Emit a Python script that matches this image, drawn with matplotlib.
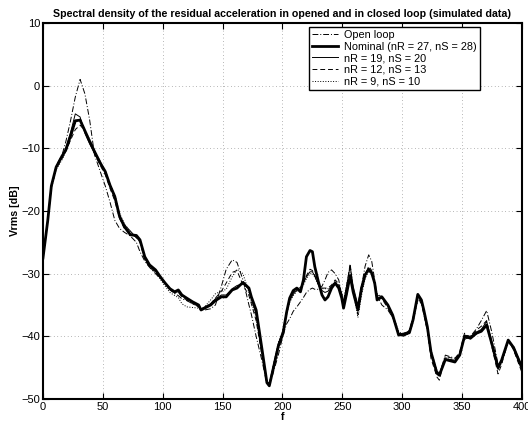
import matplotlib
matplotlib.use('Agg')
import matplotlib.pyplot as plt

# 0. data
# ====================
freq = [0, 2, 4, 7, 11, 16, 19, 23, 27, 31, 35, 39, 43, 48, 52, 56, 60, 64, 68, 73,
        78, 81, 85, 89, 94, 98, 102, 106, 110, 113, 116, 120, 125, 130, 132, 135, 140, 144, 149, 153,
        158, 162, 167, 172, 174, 178, 183, 187, 189, 192, 196.5, 200.5, 203.5, 206, 209, 212, 215, 217.5, 220, 223,
        225, 227, 230, 233, 235.5, 238, 241, 244, 247, 249.5, 251, 253.5, 256.5, 259, 263, 266, 269, 272, 274.5, 277,
        279, 283, 288, 292, 297, 301, 306, 309, 313, 316, 318, 321, 324, 329, 331, 336, 344, 348, 352, 357,
        362, 366, 370.5, 375, 380, 383, 388.5, 393, 400]

open_loop = [-27.5, -24.5, -21.5, -16.0, -12.8, -11.0, -9.0, -5.6, -1.8, 1.0,
             -1.3, -5.5, -11.0, -13.8, -16.0, -18.6, -21.5, -22.8, -23.4, -24.0,
             -25.0, -26.5, -28.0, -29.0, -30.0, -30.8, -31.6, -32.6, -33.2, -33.5,
             -34.0, -34.3, -34.8, -35.3, -35.5, -35.8, -35.6, -35.0, -32.0, -29.3,
             -27.8, -28.2, -31.0, -35.0, -36.5, -40.0, -44.0, -47.6, -47.8, -46.0,
             -43.0, -39.8, -38.0, -37.2, -36.0, -35.3, -34.5, -33.8, -33.0, -32.5,
             -32.3, -32.5, -32.5, -32.0, -31.0, -29.8, -29.4, -30.0, -31.0, -33.5,
             -34.5, -33.5, -30.5, -33.0, -35.0, -32.0, -28.8, -27.0, -28.0, -31.0,
             -33.5, -35.0, -35.8, -37.0, -39.5, -40.0, -39.5, -37.5, -34.0, -34.5,
             -36.0, -39.0, -42.5, -45.5, -46.0, -43.0, -43.5, -42.7, -40.5, -40.0,
             -38.8, -37.5, -35.9, -39.5, -44.5, -44.0, -40.8, -42.0, -45.5]

nominal = [-27.5, -24.5, -21.5, -16.0, -13.0, -11.2, -10.3, -8.0, -5.6, -5.5,
           -7.2, -8.9, -10.5, -12.4, -13.7, -15.9, -17.7, -20.9, -22.5, -23.8,
           -23.9, -24.6, -27.3, -28.6, -29.4, -30.5, -31.5, -32.4, -32.9, -32.6,
           -33.4, -33.9, -34.5, -35.0, -35.8, -35.5, -35.0, -34.3, -33.7, -33.7,
           -32.6, -32.3, -31.4, -32.3, -33.7, -35.8, -42.2, -47.4, -47.9, -45.4,
           -41.6, -39.5, -36.1, -33.9, -32.7, -32.3, -32.9, -31.0, -27.3, -26.3,
           -26.5, -28.9, -31.3, -33.4, -34.2, -33.7, -32.3, -31.5, -32.3, -33.9,
           -35.5, -33.2, -30.3, -32.9, -35.8, -32.3, -30.2, -29.3, -29.9, -31.5,
           -34.2, -33.7, -35.0, -36.6, -39.8, -39.7, -39.4, -37.4, -33.3, -34.2,
           -35.8, -38.5, -42.5, -45.9, -46.2, -43.7, -44.1, -43.0, -40.0, -40.3,
           -39.5, -39.2, -38.2, -41.3, -45.0, -43.8, -40.6, -41.8, -45.0]

nr19 = [-27.5, -24.5, -21.5, -16.0, -13.0, -11.2, -10.0, -7.5, -4.5, -5.0,
        -7.6, -9.3, -10.8, -12.6, -13.9, -16.0, -18.0, -20.7, -22.2, -23.2,
        -24.3, -24.8, -27.6, -28.8, -29.6, -30.6, -31.6, -32.5, -33.0, -32.9,
        -33.5, -34.0, -34.6, -35.2, -35.6, -35.3, -34.8, -34.0, -33.4, -33.4,
        -32.4, -31.9, -31.6, -32.5, -34.0, -36.5, -42.8, -47.3, -47.6, -45.0,
        -41.2, -39.0, -36.0, -34.3, -33.3, -32.6, -32.6, -31.5, -30.5, -29.7,
        -29.7, -30.4, -31.8, -32.7, -33.0, -32.8, -31.9, -31.5, -32.0, -33.5,
        -34.5, -32.0, -28.8, -32.0, -35.0, -32.0, -30.0, -29.2, -29.8, -31.8,
        -33.5, -33.6, -35.2, -36.8, -39.6, -39.5, -39.2, -37.2, -33.6, -34.4,
        -36.2, -38.8, -42.8, -45.7, -46.3, -43.6, -43.8, -42.8, -39.8, -40.0,
        -39.3, -38.9, -37.6, -41.0, -45.2, -44.0, -40.8, -42.0, -45.4]

nr12 = [-27.5, -24.5, -21.5, -16.2, -13.2, -11.6, -10.5, -8.7, -7.0, -6.3,
        -7.2, -9.0, -10.8, -12.8, -14.2, -16.4, -18.4, -21.2, -22.8, -23.6,
        -24.2, -25.0, -27.8, -29.0, -29.8, -30.7, -31.5, -32.3, -33.1, -33.0,
        -33.7, -34.2, -34.8, -35.3, -35.7, -35.5, -34.8, -33.9, -32.8, -31.5,
        -29.8, -29.5, -31.8, -33.5, -34.8, -37.5, -43.2, -47.5, -47.7, -45.2,
        -41.5, -39.3, -36.3, -34.2, -33.0, -32.5, -32.2, -31.3, -30.3, -29.3,
        -29.5, -30.3, -31.6, -32.3, -32.3, -32.3, -31.8, -31.0, -31.6, -33.2,
        -34.8, -32.2, -28.4, -32.5, -36.5, -33.0, -30.3, -28.8, -29.5, -31.2,
        -33.8, -34.0, -35.5, -37.0, -39.5, -40.0, -39.0, -37.0, -34.0, -34.8,
        -36.5, -39.2, -43.5, -46.5, -47.0, -43.2, -43.6, -42.5, -39.5, -40.2,
        -39.0, -38.4, -37.5, -41.8, -46.0, -44.5, -40.5, -42.2, -45.8]

nr9 = [-27.5, -24.5, -21.5, -16.4, -13.4, -11.8, -10.6, -8.5, -6.0, -5.2,
       -7.0, -8.6, -10.2, -12.2, -13.6, -15.6, -17.4, -20.4, -22.0, -23.4,
       -24.0, -24.8, -27.4, -28.8, -29.8, -30.9, -32.0, -33.0, -33.5, -33.8,
       -34.8, -35.3, -35.4, -35.5, -35.8, -35.3, -34.2, -33.2, -32.8, -32.5,
       -30.5, -29.3, -30.0, -33.0, -34.5, -37.0, -43.0, -47.2, -47.5, -45.0,
       -41.0, -39.0, -36.5, -34.6, -33.5, -32.8, -32.4, -31.8, -30.8, -30.0,
       -30.0, -30.6, -31.9, -32.4, -32.4, -32.4, -32.0, -31.2, -31.8, -33.0,
       -34.2, -31.8, -28.8, -32.8, -37.0, -33.5, -30.8, -29.6, -30.0, -31.5,
       -33.2, -33.8, -35.0, -36.5, -39.2, -39.8, -39.6, -37.8, -34.2, -34.6,
       -36.0, -38.6, -42.2, -45.5, -46.0, -43.4, -44.0, -43.0, -40.2, -40.4,
       -39.6, -39.0, -37.8, -41.0, -45.3, -44.3, -41.0, -41.6, -44.8]

labels = ['Open loop', 'Nominal (nR = 27, nS = 28)', 'nR = 19, nS = 20',
          'nR = 12, nS = 13', 'nR = 9, nS = 10']
xticks = [0, 50, 100, 150, 200, 250, 300, 350, 400]
yticks = [-50, -40, -30, -20, -10, 0, 10]

# 1. canvas
# ====================
plt.rcParams['font.family'] = ['Liberation Sans', 'DejaVu Sans']
fig = plt.figure(figsize=(5.28, 4.26), dpi=100)
ax = fig.add_axes([0.0814, 0.0634, 0.9072, 0.8826])

# 2. curves
# ====================
ax.plot(freq, open_loop, color='black', lw=0.7, ls='-.', dashes=(6, 2, 1, 2), label=labels[0])
ax.plot(freq, nominal, color='black', lw=2.0, ls='-', label=labels[1])
ax.plot(freq, nr19, color='black', lw=0.7, ls='-', label=labels[2])
ax.plot(freq, nr12, color='black', lw=0.7, ls='--', dashes=(5, 3), label=labels[3])
ax.plot(freq, nr9, color='black', lw=0.7, ls=':', label=labels[4])

# 3. axes, grid, labels
# ====================
ax.set_xlim(0, 400)
ax.set_ylim(-50, 10)
ax.set_xticks(xticks)
ax.set_yticks(yticks)
ax.tick_params(direction='in', length=4, width=0.8, labelsize=8, top=True, right=True, pad=2)
ax.grid(True, color='black', ls=(0, (1, 4)), lw=0.5, alpha=0.55)
for s in ax.spines.values():
    s.set_linewidth(1.5)

ax.set_title('Spectral density of the residual acceleration in opened and in closed loop (simulated data)',
             fontsize=7.7, fontweight='bold', pad=4)
ax.set_xlabel('f', fontsize=7.7, fontweight='bold', labelpad=0)
ax.set_ylabel('Vrms [dB]', fontsize=7.7, fontweight='bold', labelpad=1)

leg = ax.legend(loc='upper right', bbox_to_anchor=(0.913, 0.99), fontsize=7.8, frameon=True,
                fancybox=False, borderaxespad=0, handlelength=2.4, labelspacing=0.15,
                borderpad=0.3, handletextpad=0.6)
leg.get_frame().set_edgecolor('black')
leg.get_frame().set_linewidth(1.0)
leg.get_frame().set_alpha(1.0)

fig.savefig('out.png', dpi=100)
